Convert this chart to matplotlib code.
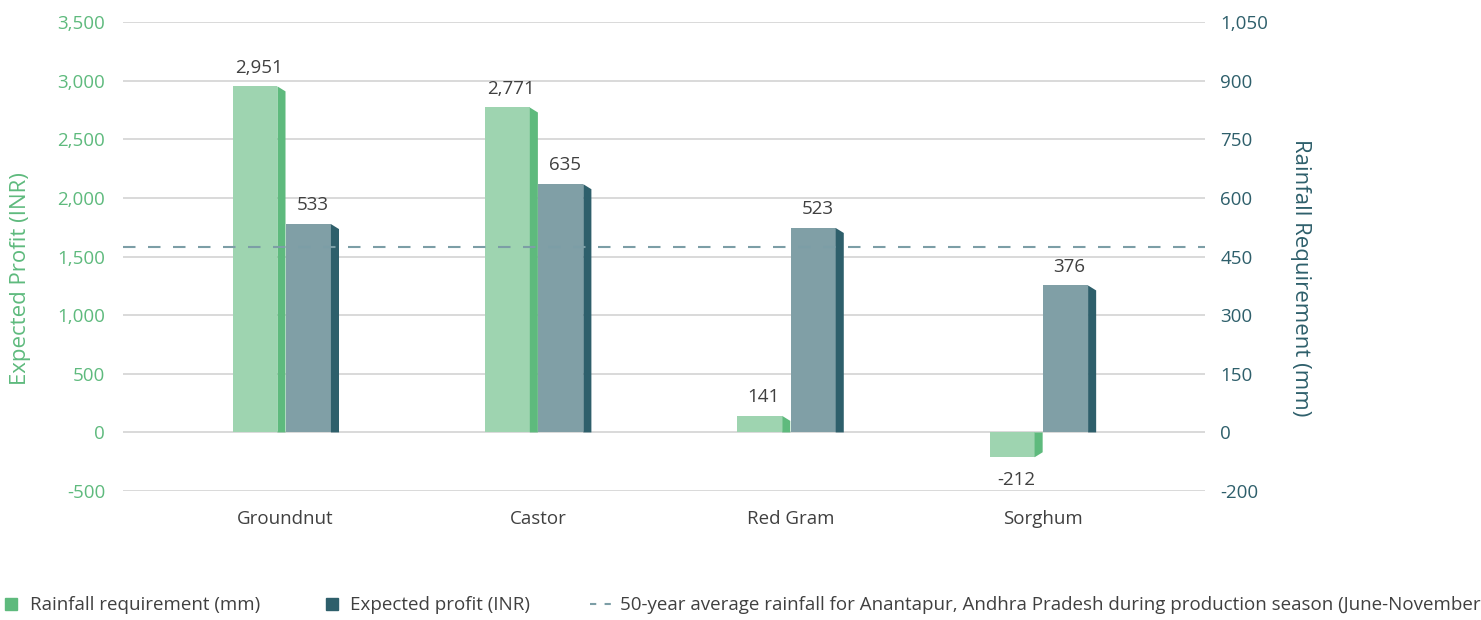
import matplotlib.pyplot as plt
from matplotlib.lines import Line2D
from matplotlib.patches import Polygon

plt.rcParams['font.family'] = ['Open Sans', 'DejaVu Sans']

crops = ["Groundnut", "Castor", "Red Gram", "Sorghum"]
profit = [2951, 2771, 141, -212]          # green bars, left axis
rainfall = [533, 635, 523, 376]           # dark bars, right axis
avg_rainfall = 475

left_ticks = [-500, 0, 500, 1000, 1500, 2000, 2500, 3000, 3500]
right_ticks = [-150, 0, 150, 300, 450, 600, 750, 900, 1050]
right_labels = ["-200", "0", "150", "300", "450", "600", "750", "900", "1,050"]

legend_labels = ["Rainfall requirement (mm)", "Expected profit (INR)",
                 "50-year average rainfall for Anantapur, Andhra Pradesh during production season (June-November)"]

GREEN_FRONT, GREEN_SIDE = "#9ed4b0", "#5eba7d"
DARK_FRONT, DARK_SIDE = "#809fa6", "#2e5f6b"
LEFT_TXT, RIGHT_TXT = "#5eba7d", "#2e5f6b"
TXT = "#404040"
GRID = "#d3d3d3"
DASH = "#7c9ea6"

fig = plt.figure(figsize=(14.81, 6.2), dpi=100)
ax = fig.add_axes([0.0831, 0.208, 0.7306, 0.7565])
ax2 = ax.twinx()

ax.set_xlim(-0.6436, 3.6436)
ax.set_ylim(-500, 3500)
ax2.set_ylim(-150, 1050)

bar_w = 0.178
depth = 0.032
axis_h_px = 0.7565 * 620
slant_px = 5


def draw_bars(a, vals, x_off, front, side):
    lo, hi = a.get_ylim()
    slant = slant_px / axis_h_px * (hi - lo)
    for i, v in enumerate(vals):
        x0 = i + x_off
        a.bar(x0, v, width=bar_w, align='edge', color=front, zorder=2)
        x1 = x0 + bar_w
        sgn = 1 if v >= 0 else -1
        a.add_patch(Polygon([(x1, v), (x1 + depth, v - sgn * slant),
                             (x1 + depth, 0), (x1, 0)],
                            closed=True, facecolor=side, edgecolor='none', zorder=2))
        a.annotate(f"{v:,}", xy=(x0 + (bar_w + depth) / 2, v),
                   xytext=(0, 7 if v >= 0 else -10), textcoords='offset points',
                   ha='center', va='bottom' if v >= 0 else 'top',
                   fontsize=13.5, color=TXT)


draw_bars(ax, profit, -(bar_w + depth), GREEN_FRONT, GREEN_SIDE)
draw_bars(ax2, rainfall, 0.002, DARK_FRONT, DARK_SIDE)

ax2.axhline(avg_rainfall, color=DASH, lw=1.5, linestyle=(0, (6, 6)), zorder=5)

ax.set_yticks(left_ticks)
ax.set_yticklabels([f"{t:,}" for t in left_ticks])
ax.yaxis.grid(True, color=GRID, lw=1.2)
ax.set_axisbelow(True)
ax.tick_params(axis='y', length=0, pad=13, labelsize=13.5, labelcolor=LEFT_TXT)

ax2.set_yticks(right_ticks)
ax2.set_yticklabels(right_labels)
ax2.tick_params(axis='y', length=0, pad=11, labelsize=13.5, labelcolor=RIGHT_TXT)

ax.set_xticks(range(len(crops)))
ax.set_xticklabels(crops)
ax.tick_params(axis='x', length=0, pad=14, labelsize=13.5, labelcolor=TXT)

for a in (ax, ax2):
    for s in a.spines.values():
        s.set_visible(False)

ax.set_ylabel("Expected Profit (INR)", fontsize=16, color=LEFT_TXT, va='center')
ax.yaxis.set_label_coords(-0.095, 0.454)
ax2.set_ylabel("Rainfall Requirement (mm)", fontsize=16, color=RIGHT_TXT, rotation=270, va='center')
ax2.yaxis.set_label_coords(1.0878, 0.454)

handles = [
    Line2D([], [], marker='s', linestyle='none', markersize=9, color=GREEN_SIDE),
    Line2D([], [], marker='s', linestyle='none', markersize=9, color=DARK_SIDE),
    Line2D([], [], color=DASH, lw=1.5, linestyle=(0, (3, 4))),
]
# the last entry runs past the right edge, as in the original
fig.legend(handles, legend_labels, loc='center left', bbox_to_anchor=(0.0, 0.024),
           ncol=3, frameon=False, fontsize=13.5, handlelength=1.2, handletextpad=0.4,
           columnspacing=3.2, borderpad=0, borderaxespad=0, labelcolor=TXT)

fig.savefig("out.png", dpi=100)
